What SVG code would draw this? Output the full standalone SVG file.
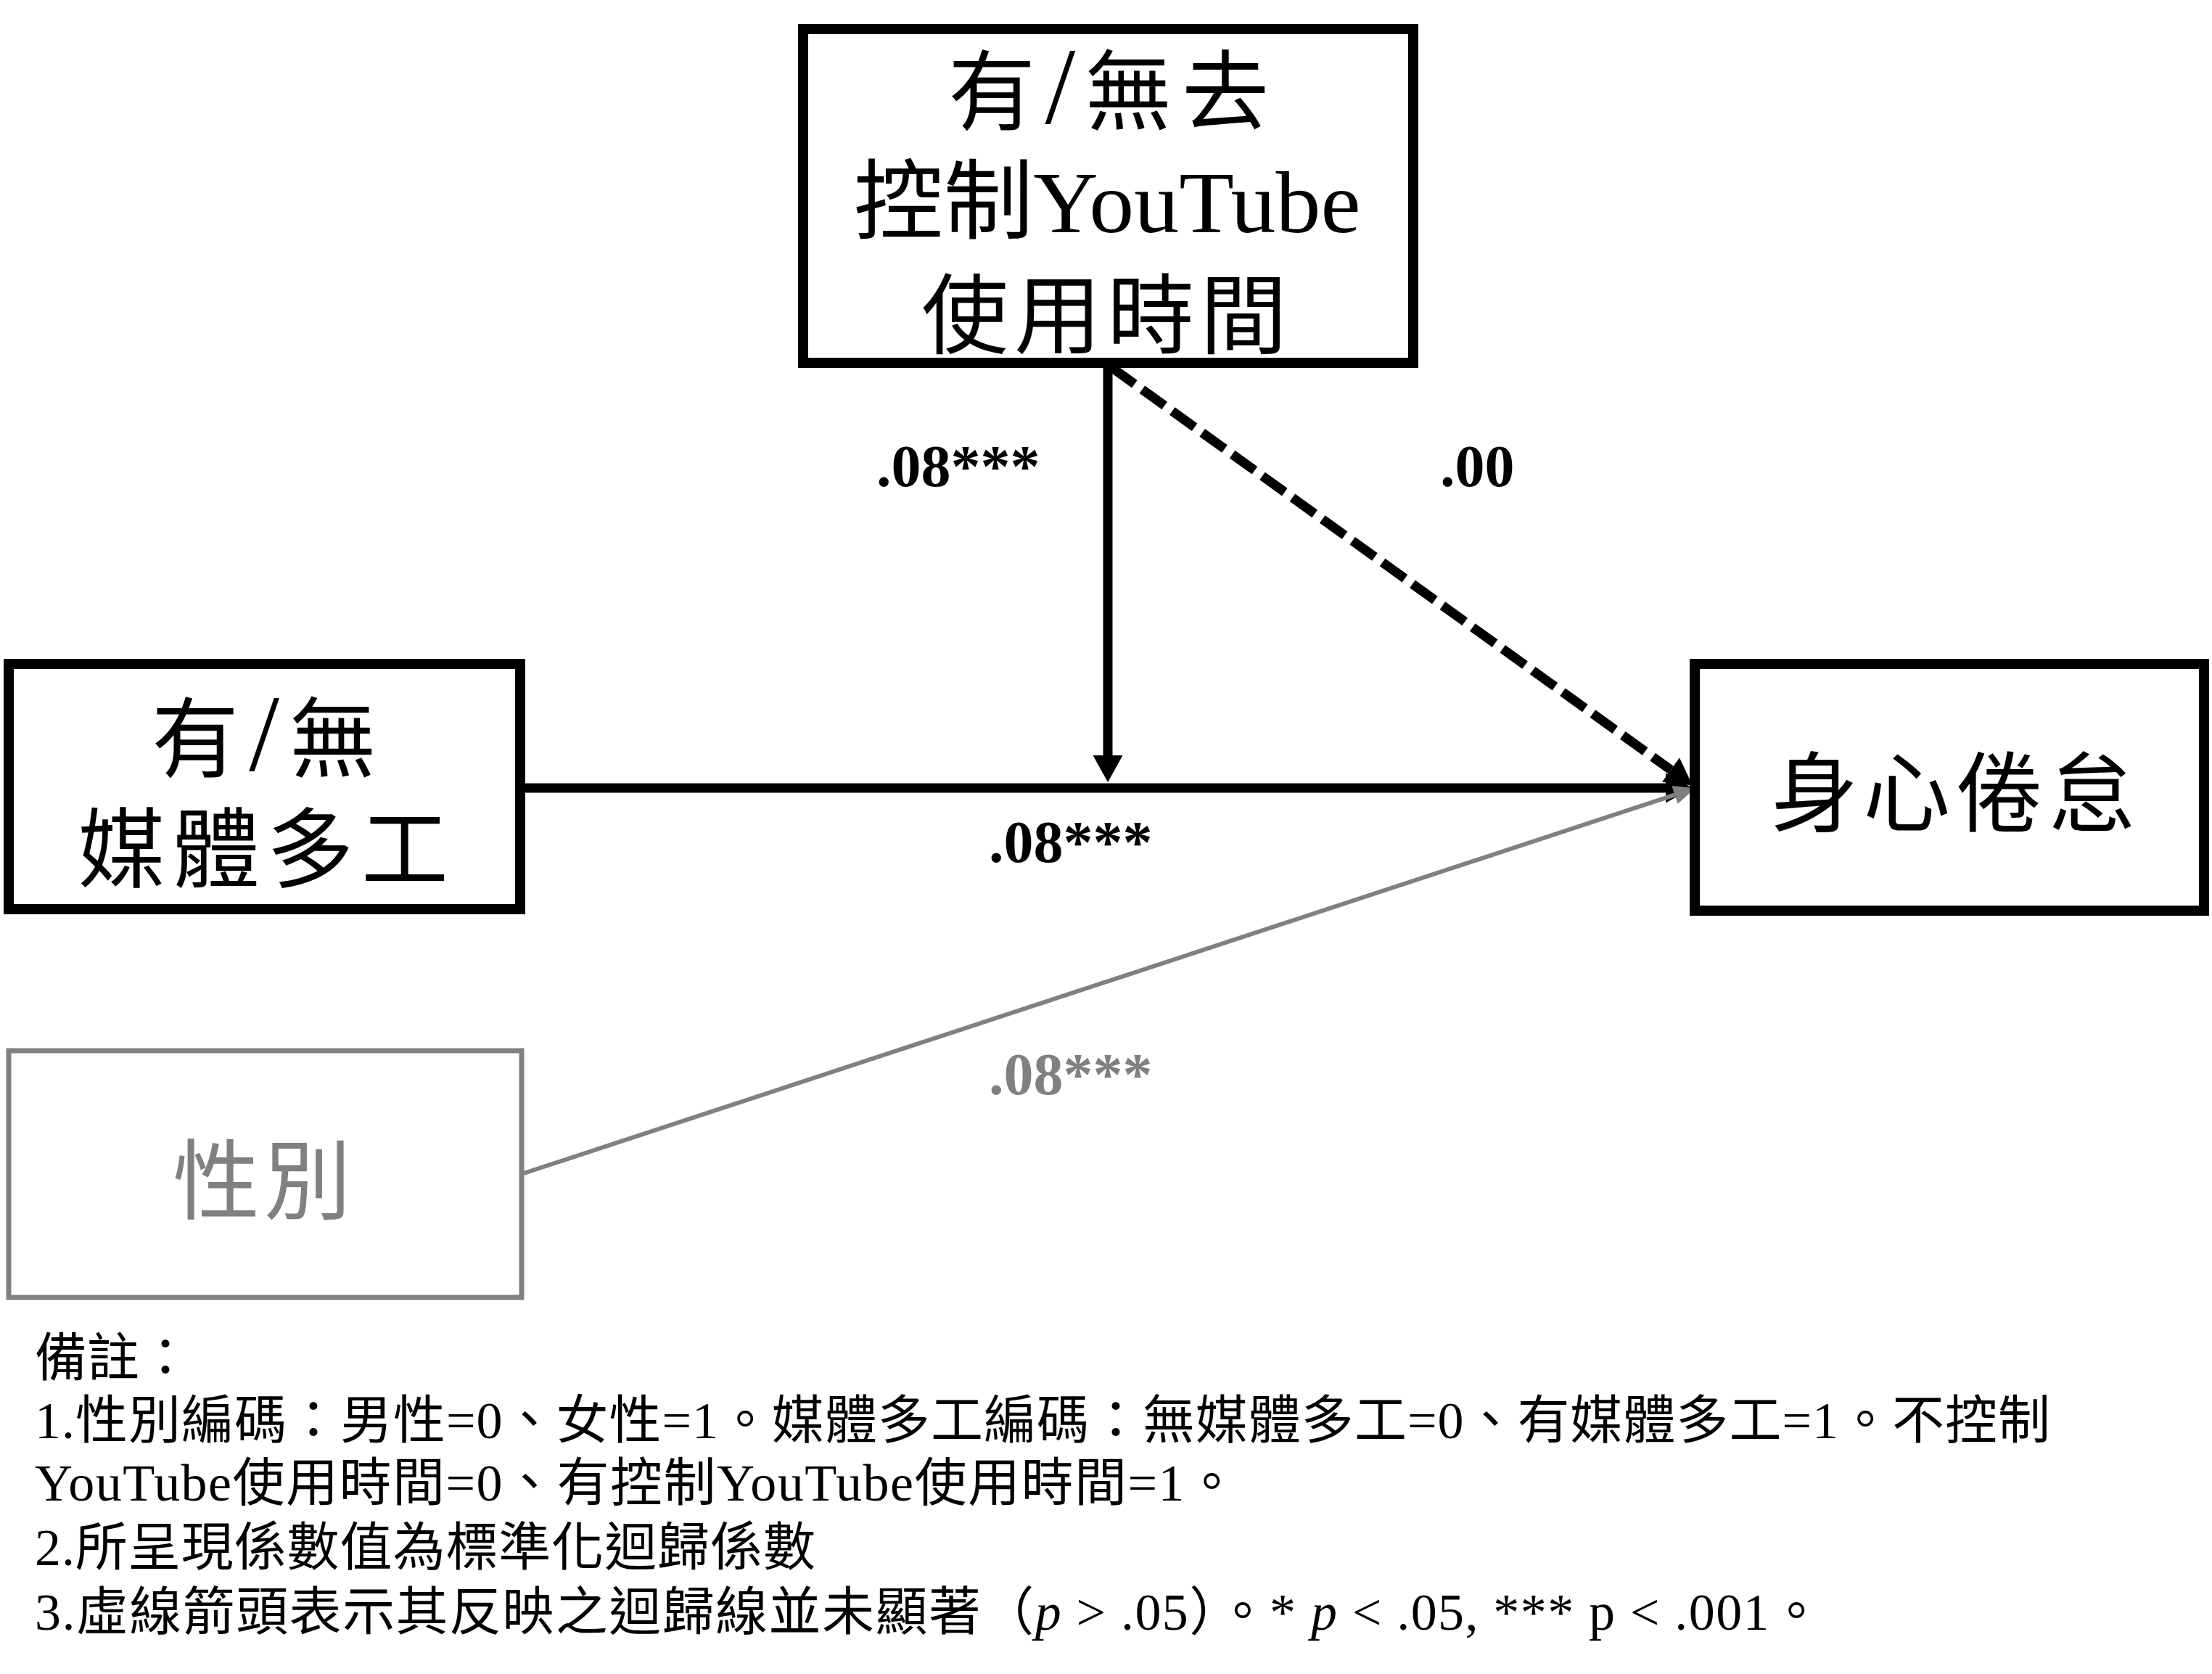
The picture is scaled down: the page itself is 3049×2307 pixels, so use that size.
<svg xmlns="http://www.w3.org/2000/svg" width="3049" height="2307" viewBox="0 0 3049 2307">
<style>
.box{fill:#fff;stroke:#000;stroke-width:14}
.gbox{fill:#fff;stroke:#808080;stroke-width:7}
.t{font-family:"Liberation Serif","Noto Sans CJK TC",serif;font-size:120px;text-anchor:middle;fill:#000}
.sl{font-size:150px}
.g{fill:#808080}
.lbl{font-family:"Liberation Serif",serif;font-weight:bold;font-size:82px;fill:#000}
.note{font-family:"Liberation Serif","Noto Sans CJK TC",serif;font-size:72px;fill:#000}
.ln{stroke:#000;stroke-width:13;fill:none}
</style>
<defs>
<marker id="ah" markerUnits="userSpaceOnUse" markerWidth="40" markerHeight="44" refX="0" refY="20.5" orient="auto" overflow="visible">
<path d="M0,0 L37,20.5 L0,41 Z" fill="#000"/>
</marker>
<marker id="ahg" markerUnits="userSpaceOnUse" markerWidth="32" markerHeight="28" refX="0" refY="13" orient="auto" overflow="visible">
<path d="M0,0 L30,13 L0,26 Z" fill="#808080"/>
</marker>
</defs>
<rect width="3049" height="2307" fill="#fff"/>

<g id="connectors">
<line class="ln" x1="724" y1="1086" x2="2296" y2="1086" marker-end="url(#ah)"/>
<line class="ln" x1="1527" y1="507" x2="1527" y2="1041" marker-end="url(#ah)"/>
<line class="ln" x1="1533" y1="507" x2="2303" y2="1061" stroke-dasharray="38 13" marker-end="url(#ah)"/>
<line x1="722" y1="1617" x2="2308.5" y2="1095.4" stroke="#808080" stroke-width="6" marker-end="url(#ahg)"/>
</g>

<g id="node-youtube">
<rect class="box" x="1107" y="40" width="841" height="460"/>
<text class="t" x="1528" y="170" textLength="442" lengthAdjust="spacing">有<tspan class="sl">/</tspan>無去</text>
<text class="t" x="1526" y="320" font-size="132" textLength="699" lengthAdjust="spacingAndGlyphs">控制YouTube</text>
<text class="t" x="1522" y="478" textLength="504" lengthAdjust="spacing">使用時間</text>
</g>

<g id="node-multitask">
<rect class="box" x="12" y="915" width="705" height="338"/>
<text class="t" x="364" y="1062" textLength="310" lengthAdjust="spacing">有<tspan class="sl">/</tspan>無</text>
<text class="t" x="363" y="1214" textLength="510" lengthAdjust="spacing">媒體多工</text>
</g>

<g id="node-burnout">
<rect class="box" x="2336" y="915" width="702" height="340"/>
<text class="t" x="2692" y="1137" textLength="502" lengthAdjust="spacing">身心倦怠</text>
</g>

<g id="node-gender">
<rect class="gbox" x="12" y="1448" width="707" height="340"/>
<text class="t g" x="361" y="1671" textLength="246" lengthAdjust="spacing">性別</text>
</g>

<g id="labels">
<text class="lbl" x="1208" y="670">.08***</text>
<text class="lbl" x="1985" y="670">.00</text>
<text class="lbl" x="1363" y="1188">.08***</text>
<text class="lbl" x="1363" y="1508" style="fill:#808080">.08***</text>
</g>

<g id="notes">
<text class="note" x="48" y="1896">備註：</text>
<text class="note" x="48" y="1982" textLength="2778" lengthAdjust="spacing">1.性別編碼：男性=0、女性=1。媒體多工編碼：無媒體多工=0、有媒體多工=1。不控制</text>
<text class="note" x="48" y="2068" textLength="1658" lengthAdjust="spacing">YouTube使用時間=0、有控制YouTube使用時間=1。</text>
<text class="note" x="48" y="2157" textLength="1076" lengthAdjust="spacing">2.所呈現係數值為標準化迴歸係數</text>
<text class="note" x="48" y="2246" textLength="2464" lengthAdjust="spacing">3.虛線箭頭表示其反映之迴歸線並未顯著（<tspan font-style="italic">p</tspan> &gt; .05）。* <tspan font-style="italic">p</tspan> &lt; .05, *** p &lt; .001。</text>
</g>
</svg>
